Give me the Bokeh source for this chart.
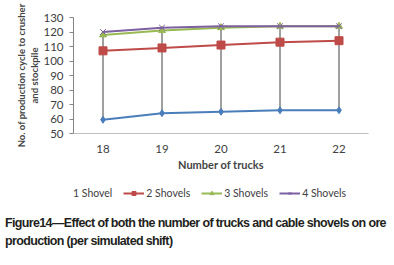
from bokeh.plotting import figure
from bokeh.models import Legend, LegendItem, FactorRange, Div, Range1d
from bokeh.layouts import column
from bokeh.embed import file_html
from bokeh.resources import INLINE

trucks = ["18", "19", "20", "21", "22"]
shovel1 = [59.5, 64, 65, 66, 66]
shovel2 = [107, 109, 111, 113, 114]
shovel3 = [118, 121, 123, 124, 124]
shovel4 = [120, 123, 124, 124, 124]
series_names = ["1 Shovel", "2 Shovels", "3 Shovels", "4 Shovels"]
colors = ["#4A7EBB", "#BE4B48", "#98B954", "#7D60A0"]
markers = ["diamond", "square", "triangle", "x"]
msizes = [7, 8, 7, 8]
y_ticks = [50, 60, 70, 80, 90, 100, 110, 120, 130]
caption_line1 = "Figure14\u2014Effect of both the number of trucks and cable shovels on ore"
caption_line2 = "production (per simulated shift)"

allser = [shovel1, shovel2, shovel3, shovel4]
low = [min(v) for v in zip(*allser)]
high = [max(v) for v in zip(*allser)]

FONT = "Lato"

p = figure(frame_width=295, frame_height=116, x_range=FactorRange(*trucks), y_range=(50, 130),
           output_backend="svg", toolbar_location=None,
           min_border_left=73, min_border_right=18, min_border_top=17, min_border_bottom=45)
p.outline_line_color = None
p.xgrid.grid_line_color = None
p.ygrid.grid_line_color = None

p.segment(x0=trucks, y0=low, x1=trucks, y1=high, line_color="#404040", line_width=1)
for ser, c, m, s in zip(allser, colors, markers, msizes):
    p.line(trucks, ser, line_color=c, line_width=2)
    p.scatter(trucks, ser, marker=m, size=s, fill_color=c, line_color=c)

p.yaxis.ticker = y_ticks
p.yaxis.major_label_text_font = FONT
p.yaxis.major_label_text_font_size = "11.5px"
p.yaxis.major_label_text_color = "#404040"
p.yaxis.axis_line_color = "#868686"
p.yaxis.major_tick_line_color = "#868686"
p.yaxis.major_tick_in = 0
p.yaxis.major_tick_out = 4
p.yaxis.minor_tick_line_color = None
p.yaxis.major_label_standoff = 6
p.yaxis.axis_label = "No. of production cycle to crusher\nand stockpile"
p.yaxis.axis_label_text_font = FONT
p.yaxis.axis_label_text_font_style = "bold"
p.yaxis.axis_label_text_font_size = "9.5px"
p.yaxis.axis_label_standoff = 0

p.xaxis.axis_line_color = "#C0C0C0"
p.xaxis.major_tick_line_color = None
p.xaxis.major_label_text_font = FONT
p.xaxis.major_label_text_font_size = "11.5px"
p.xaxis.major_label_text_color = "#404040"
p.xaxis.major_label_standoff = 5
p.xaxis.axis_label = "Number of trucks"
p.xaxis.axis_label_text_font = FONT
p.xaxis.axis_label_text_font_style = "bold"
p.xaxis.axis_label_text_font_size = "11px"
p.xaxis.axis_label_standoff = 2

# legend strip: same series drawn out of view, only the legend shows
lg = figure(width=386, height=30, x_range=p.x_range, y_range=Range1d(1000, 1001),
            output_backend="svg", toolbar_location=None, min_border=0)
lg.axis.visible = False
lg.grid.visible = False
lg.outline_line_color = None
items = []
for ser, name, c, m, s in zip(allser, series_names, colors, markers, msizes):
    r1 = lg.line(trucks, ser, line_color=c, line_width=2)
    r2 = lg.scatter(trucks, ser, marker=m, size=s - 2, fill_color=c, line_color=c)
    items.append(LegendItem(label=name, renderers=[r1, r2]))
legend = Legend(items=items, orientation="horizontal", location=(-23, 9),
                label_text_font=FONT, label_text_font_size="10.5px",
                label_text_color="#404040", glyph_width=21, glyph_height=10,
                label_standoff=2, spacing=11, padding=0, margin=0,
                border_line_alpha=0, background_fill_alpha=0)
lg.add_layout(legend, "center")

cap = Div(text=caption_line1 + "<br>" + caption_line2, width=386,
          styles={"font-family": "'Liberation Sans', Arial", "font-weight": "bold",
                  "font-size": "12.5px", "line-height": "18px", "color": "#231F20",
                  "letter-spacing": "-0.65px", "white-space": "nowrap",
                  "margin-top": "6px"})

open("out.html", "w").write(file_html(column(p, lg, cap, spacing=0), INLINE))
